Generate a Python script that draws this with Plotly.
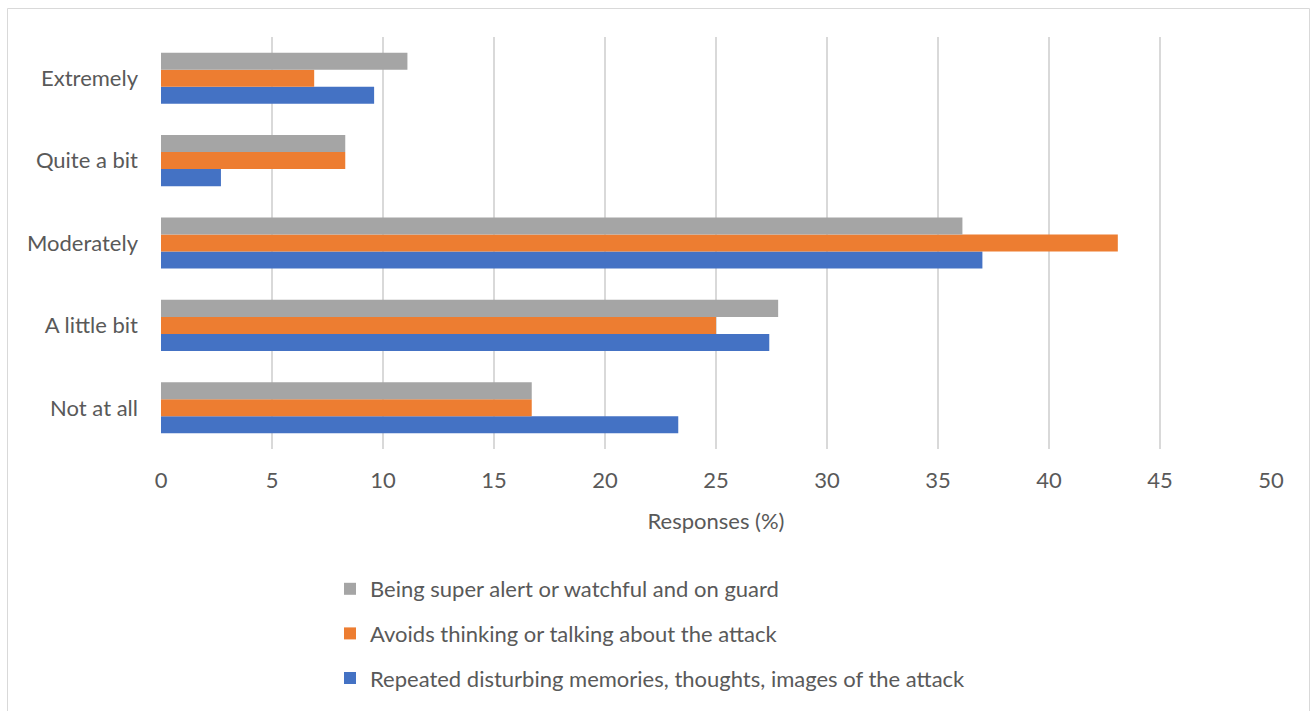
import plotly.graph_objects as go

# Severity categories, bottom to top
categories = ["Not at all", "A little bit", "Moderately", "Quite a bit", "Extremely"]

# Share of responses (%) per symptom
repeated_memories = [23.3, 27.4, 37.0, 2.7, 9.6]
avoids_thinking = [16.7, 25.0, 43.1, 8.3, 6.9]
super_alert = [16.7, 27.8, 36.1, 8.3, 11.1]

series_names = [
    "Repeated disturbing memories, thoughts, images of the attack",
    "Avoids thinking or talking about the attack",
    "Being super alert or watchful and on guard",
]
series_values = [repeated_memories, avoids_thinking, super_alert]
series_colors = ["#4472C4", "#ED7D31", "#A5A5A5"]
legend_ranks = [3, 2, 1]

x_ticks = [0, 5, 10, 15, 20, 25, 30, 35, 40, 45, 50]

W, H = 1315, 711
L, R, T, B = 161, 44, 37, 262
pw, ph = W - L - R, H - T - B

FONT = "Lato, Carlito, 'Open Sans', sans-serif"
TXT = "#595959"
FS = 22

fig = go.Figure()
for name, vals, col, rank in zip(series_names, series_values, series_colors, legend_ranks):
    fig.add_trace(go.Bar(
        y=categories, x=vals, name=name, orientation="h",
        marker=dict(color=col, line=dict(width=0)),
        legendgroup=name, legendrank=rank,
    ))

def px_x(p):
    return (p - L) / pw

def px_y(p):
    return (H - B - p) / ph

fig.update_layout(
    width=W, height=H,
    margin=dict(l=L, r=R, t=T, b=B, autoexpand=False),
    paper_bgcolor="white", plot_bgcolor="white",
    barmode="group", bargap=0.38, bargroupgap=0,
    font=dict(family=FONT, size=FS, color=TXT),
    legend=dict(
        traceorder="grouped", orientation="v",
        x=px_x(330), xanchor="left", y=px_y(568), yanchor="top",
        font=dict(family=FONT, size=FS, color=TXT),
        tracegroupgap=13, bgcolor="rgba(0,0,0,0)",
    ),
    shapes=[dict(
        type="rect", xref="paper", yref="paper",
        x0=px_x(7.5), x1=px_x(1309.5), y0=px_y(760), y1=px_y(8.5),
        line=dict(color="#D9D9D9", width=1), fillcolor="rgba(0,0,0,0)",
        layer="below",
    )],
)

fig.update_xaxes(
    range=[0, 50], tickvals=x_ticks, showgrid=True,
    gridcolor="#D9D9D9", gridwidth=1.5, zeroline=False,
    showline=False, ticks="", ticklabelstandoff=16, automargin=False,
    tickfont=dict(size=FS, color=TXT),
    title=dict(text="Responses (%)", font=dict(size=FS, color=TXT), standoff=21),
)
fig.update_yaxes(
    type="category", categoryorder="array", categoryarray=categories,
    showgrid=False, zeroline=False, showline=False, ticks="", automargin=False,
    ticklabelstandoff=22, tickfont=dict(size=FS, color=TXT),
)

fig.write_html("out.html")
